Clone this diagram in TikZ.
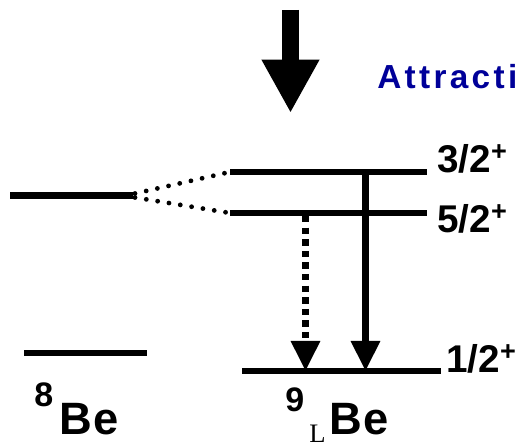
\documentclass[tikz,border=0pt]{standalone}
\usepackage{fontspec}
\setmainfont{Liberation Sans}
\newfontfamily\nucfont[LetterSpace=4]{Liberation Sans}
\newfontfamily\attfont[LetterSpace=10]{Liberation Sans}
\newfontfamily\lamfont{Liberation Serif}
\usetikzlibrary{arrows.meta,positioning}
\definecolor{cBlue}{HTML}{000099}
\tikzset{
  lvl/.style={line width=4.6pt},
  fork/.style={line width=3.6pt,line cap=round,dash pattern=on 0pt off 8.6pt},
  decay/.style={line width=4.8pt,-{Triangle[length=22.5pt,width=21pt]}},
  mdecay/.style={line width=4.6pt,dash pattern=on 4.8pt off 3.9pt,-{Triangle[length=22.5pt,width=21pt]}},
  push/.style={line width=12.75pt,-{Triangle[length=40pt,width=40.5pt]}},
  spin/.style={anchor=base west,inner sep=0pt,font=\bfseries\fontsize{29}{30}\selectfont},
  nuc/.style={anchor=base west,inner sep=0pt,font=\nucfont\bfseries\fontsize{34}{36}\selectfont},
  mass/.style={anchor=base west,inner sep=0pt,font=\bfseries\fontsize{25.5}{26}\selectfont},
}

\begin{document}
\begin{tikzpicture}[x=0.75pt,y=-0.75pt]
\useasboundingbox (0,0) rectangle (522,448);
% 8Be levels
\coordinate (g8L) at (24,353);  \coordinate (g8R) at (147,353);
\coordinate (e8L) at (10,195.5); \coordinate (e8R) at (133,195.5);
\coordinate (e8Ru) at (135,193.5); \coordinate (e8Rd) at (135,197.5);
% 9LBe levels
\coordinate (a0) at (230,172); \coordinate (a1) at (427,172);
\coordinate (b0) at (230,213); \coordinate (b1) at (427,213);
\coordinate (c0) at (242,371); \coordinate (c1) at (441,371);
\draw[lvl] (g8L) -- (g8R);
\draw[lvl] (e8L) -- (e8R);
\draw[lvl] (a0) -- (a1);
\draw[lvl] (b0) -- (b1);
\draw[lvl] (c0) -- (c1);
\draw[fork] (e8Ru) -- (a0);
\draw[fork] (e8Rd) -- (b0);
% transitions
\coordinate (m1top) at (365.5,172); \coordinate (m1bot) at (365.5,371);
\coordinate (e2top) at (305.5,216); \coordinate (e2bot) at (305.5,371);
\draw[decay] (m1top) -- (m1bot);
\draw[mdecay] (e2top) -- (e2bot);
% attraction
\coordinate (pushT) at (290.5,10); \coordinate (pushB) at (290.5,113);
\draw[push] (pushT) -- (pushB);
\node[anchor=base west,inner sep=0pt,text=cBlue,font=\attfont\bfseries\fontsize{25}{27}\selectfont]
  (attr) at (377,89) {Attracti};
% labels
\node[spin] (s32) at (437,173) {3/2\textsuperscript{+}};
\node[spin] (s52) at (437,233) {5/2\textsuperscript{+}};
\node[spin] (s12) at (446,373) {1/2\textsuperscript{+}};
\node[nuc] (be8) at (59,435) {Be};
\node[mass] (a8) at (34,407) {8};
\node[nuc] (be9) at (329,435) {Be};
\node[mass] (a9) at (285,412) {9};
\node[anchor=base west,inner sep=0pt,font=\lamfont\fontsize{20}{20}\selectfont]
  (lam) at (309,443) {L};
\end{tikzpicture}
\end{document}
